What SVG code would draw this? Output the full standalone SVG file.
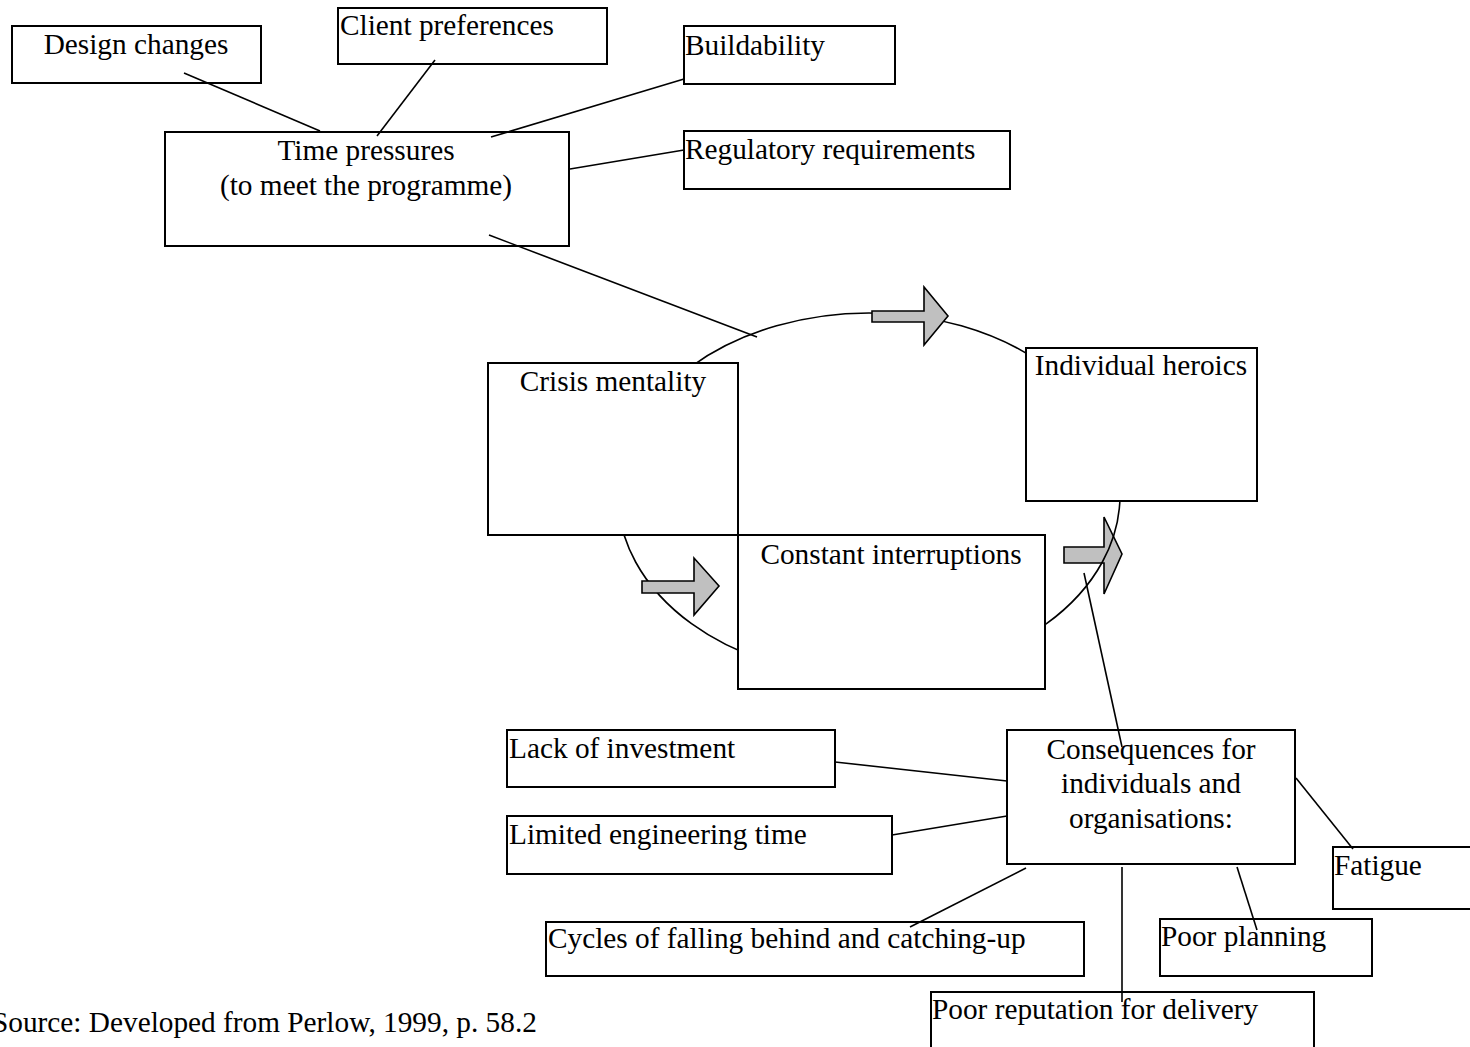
<svg xmlns="http://www.w3.org/2000/svg" width="1470" height="1047" viewBox="0 0 1470 1047">
<style>
  .box{fill:#fff;stroke:#000;stroke-width:2}
  .t{font-family:"Liberation Serif","Times New Roman",serif;font-size:29.3px;fill:#000}
  .c{text-anchor:middle}
  .ln{stroke:#000;stroke-width:1.6;fill:none}
  .arr{fill:#c0c0c0;stroke:#000;stroke-width:1.6;stroke-linejoin:miter}
</style>
<rect width="1470" height="1047" fill="#fff"/>

<g id="cycle">
  <path class="arr" d="M1064,547 H1104 V517 L1122,554 L1104,594 V563 H1064 Z"/>
  <ellipse class="ln" cx="869" cy="495" rx="251" ry="182"/>
  <path class="arr" d="M872,311 H924 V287 L948,316 L924,345 V322 H872 Z"/>
  <path class="arr" d="M642,581 H694 V558 L719,586 L694,615 V593 H642 Z"/>
</g>

<g id="design-changes"><rect class="box" x="12" y="26" width="249" height="57"/><text class="t c" x="136" y="54">Design changes</text></g>
<g id="client-preferences"><rect class="box" x="338" y="8" width="269" height="56"/><text class="t" x="340" y="35">Client preferences</text></g>
<g id="buildability"><rect class="box" x="684" y="26" width="211" height="58"/><text class="t" x="685" y="55">Buildability</text></g>
<g id="regulatory-requirements"><rect class="box" x="684" y="131" width="326" height="58"/><text class="t" x="685" y="159">Regulatory requirements</text></g>
<g id="time-pressures"><rect class="box" x="165" y="132" width="404" height="114"/><text class="t c" x="366" y="160">Time pressures</text><text class="t c" x="366" y="195">(to meet the programme)</text></g>
<g id="crisis-mentality"><rect class="box" x="488" y="363" width="250" height="172"/><text class="t c" x="613" y="391">Crisis mentality</text></g>
<g id="individual-heroics"><rect class="box" x="1026" y="348" width="231" height="153"/><text class="t c" x="1141" y="375">Individual heroics</text></g>
<g id="constant-interruptions"><rect class="box" x="738" y="535" width="307" height="154"/><text class="t c" x="891" y="564">Constant interruptions</text></g>
<g id="lack-of-investment"><rect class="box" x="507" y="730" width="328" height="57"/><text class="t" x="509" y="758">Lack of investment</text></g>
<g id="limited-engineering-time"><rect class="box" x="507" y="816" width="385" height="58"/><text class="t" x="509" y="844">Limited engineering time</text></g>
<g id="consequences"><rect class="box" x="1007" y="730" width="288" height="134"/><text class="t c" x="1151" y="759">Consequences for</text><text class="t c" x="1151" y="793">individuals and</text><text class="t c" x="1151" y="828">organisations:</text></g>
<g id="fatigue"><rect class="box" x="1333" y="847" width="150" height="62"/><text class="t" x="1334" y="875">Fatigue</text></g>
<g id="cycles"><rect class="box" x="546" y="922" width="538" height="54"/><text class="t" x="548" y="948">Cycles of falling behind and catching-up</text></g>
<g id="poor-planning"><rect class="box" x="1160" y="919" width="212" height="57"/><text class="t" x="1161" y="946">Poor planning</text></g>
<g id="poor-reputation"><rect class="box" x="931" y="992" width="383" height="70"/><text class="t" x="932" y="1019">Poor reputation for delivery</text></g>

<g id="connectors">
  <line class="ln" x1="184" y1="73" x2="320" y2="131"/>
  <line class="ln" x1="435" y1="60" x2="377" y2="136"/>
  <line class="ln" x1="684" y1="79" x2="491" y2="137"/>
  <line class="ln" x1="684" y1="150" x2="570" y2="169"/>
  <line class="ln" x1="489" y1="235" x2="757" y2="337"/>
  <line class="ln" x1="1084" y1="573" x2="1122" y2="747"/>
  <line class="ln" x1="835" y1="762" x2="1007" y2="781"/>
  <line class="ln" x1="892" y1="835" x2="1007" y2="816"/>
  <line class="ln" x1="1026" y1="868" x2="910" y2="927"/>
  <line class="ln" x1="1122" y1="867" x2="1122" y2="1002"/>
  <line class="ln" x1="1237" y1="867" x2="1257" y2="930"/>
  <line class="ln" x1="1296" y1="778" x2="1353" y2="849"/>
</g>

<text class="t" x="-8" y="1032">Source: Developed from Perlow, 1999, p. 58.2</text>
</svg>
